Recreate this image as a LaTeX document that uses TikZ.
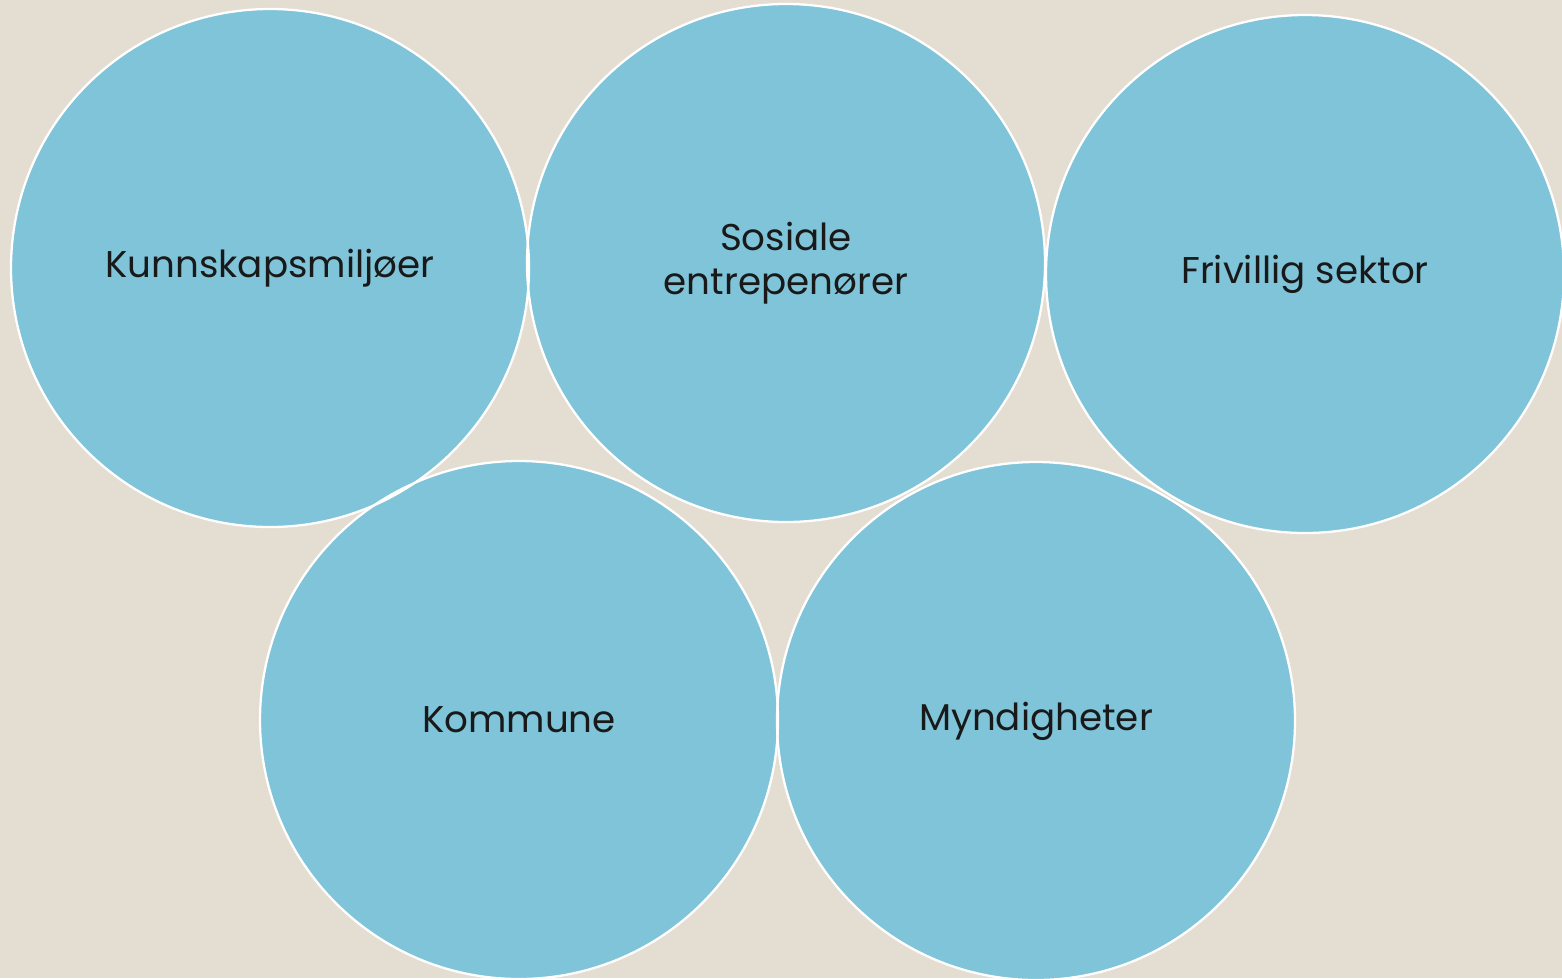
\documentclass[tikz,border=0pt]{standalone}
\usepackage{fontspec}
\setmainfont{Poppins}
\usetikzlibrary{positioning}

\definecolor{paper}{HTML}{E4DDD1}
\definecolor{bubble}{HTML}{7FC4D9}

\begin{document}
\begin{tikzpicture}[font=\fontsize{21.2}{25}\selectfont]
  \tikzset{
    blob/.style={
      circle,
      fill=bubble,
      minimum size=10.36cm,
      inner sep=0pt,
      align=center,
      text=black!90},
    rim/.style={
      draw=white,
      line width=1.3pt}}

  \fill[paper] (0,0) rectangle (31.24,-19.56);
  \useasboundingbox (0,0) rectangle (31.24,-19.56);

  \node[blob] (kun) at (5.40,-5.36) {Kunnskapsmiljøer};
  \node[blob] (sos) at (15.72,-5.26) {Sosiale\\entrepenører};
  \node[blob] (fri) at (26.10,-5.48) {Frivillig sektor};
  \node[blob] (kom) at (10.38,-14.40) {Kommune};
  \node[blob] (myn) at (20.72,-14.42) {Myndigheter};

  \foreach \n in {kun,sos,fri,kom,myn}
    \draw[rim] (\n.center) circle[radius=5.18cm];

\end{tikzpicture}
\end{document}
